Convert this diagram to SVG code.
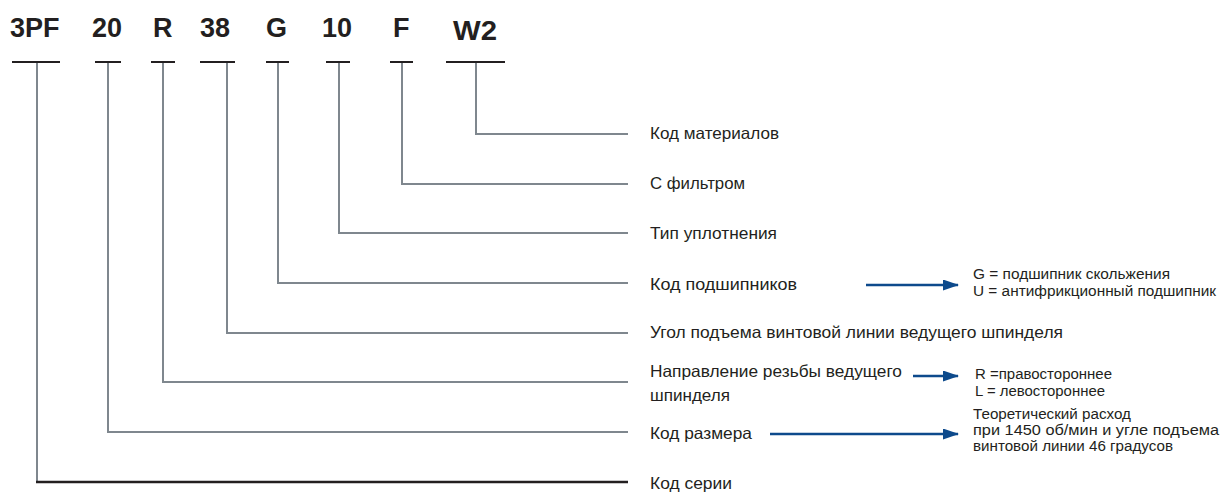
<svg xmlns="http://www.w3.org/2000/svg" width="1226" height="495" viewBox="0 0 1226 495">
<style>
.code{font-family:"Liberation Sans",Arial,sans-serif;font-weight:bold;font-size:27px;fill:#231f20}
.lbl{font-family:"Liberation Sans",Arial,sans-serif;font-size:16.5px;fill:#231f20}
.sm{font-family:"Liberation Sans",Arial,sans-serif;font-size:14px;fill:#231f20}
.bar{stroke:#231f20;stroke-width:2;fill:none}
.ln{stroke:#7f878e;stroke-width:2;fill:none}
.blk{stroke:#231f20;stroke-width:2.5;fill:none}
.arr{stroke:#0d4a8c;stroke-width:2.5;fill:none;marker-end:url(#ah)}
</style>
<defs>
<marker id="ah" viewBox="0 0 16 11" refX="15" refY="5.5" markerWidth="6.4" markerHeight="4.4" markerUnits="strokeWidth" orient="auto">
<path d="M0,0 L16,5.5 L0,11 z" fill="#0d4a8c"/>
</marker>
</defs>
<rect width="1226" height="495" fill="#fff"/>
<g id="codes">
<text class="code" x="10" y="37">3PF</text>
<text class="code" x="92" y="37">20</text>
<text class="code" x="153" y="37">R</text>
<text class="code" x="200" y="37">38</text>
<text class="code" x="266" y="37">G</text>
<text class="code" x="322" y="37">10</text>
<text class="code" x="393" y="37">F</text>
<text class="code" x="453" y="40" textLength="44" lengthAdjust="spacingAndGlyphs">W2</text>
</g>
<g id="connectors">
<line class="bar" x1="12" y1="62" x2="60" y2="62"/>
<line class="bar" x1="95" y1="62" x2="121" y2="62"/>
<line class="bar" x1="151" y1="62" x2="175" y2="62"/>
<line class="bar" x1="200" y1="62" x2="235" y2="62"/>
<line class="bar" x1="266" y1="62" x2="289" y2="62"/>
<line class="bar" x1="326" y1="62" x2="350" y2="62"/>
<line class="bar" x1="390" y1="62" x2="413" y2="62"/>
<line class="bar" x1="446" y1="62" x2="505" y2="62"/>
<polyline class="ln" points="476,63 476,134 628,134"/>
<polyline class="ln" points="402,63 402,184 628,184"/>
<polyline class="ln" points="339,63 339,233 628,233"/>
<polyline class="ln" points="278,63 278,283 628,283"/>
<polyline class="ln" points="227,63 227,333 628,333"/>
<polyline class="ln" points="163,63 163,382 628,382"/>
<polyline class="ln" points="108,63 108,432 628,432"/>
<polyline class="ln" points="37,63 37,481"/>
<line class="blk" x1="36" y1="482" x2="628" y2="482"/>
<line class="arr" x1="866" y1="285" x2="958" y2="285"/>
<line class="arr" x1="913" y1="376" x2="958" y2="376"/>
<line class="arr" x1="770" y1="434" x2="958" y2="434"/>
</g>
<g id="labels">
<text class="lbl" x="650" y="139" textLength="129" lengthAdjust="spacingAndGlyphs">Код материалов</text>
<text class="lbl" x="650" y="189" textLength="95" lengthAdjust="spacingAndGlyphs">С фильтром</text>
<text class="lbl" x="650" y="239" textLength="127" lengthAdjust="spacingAndGlyphs">Тип уплотнения</text>
<text class="lbl" x="650" y="290" textLength="147" lengthAdjust="spacingAndGlyphs">Код подшипников</text>
<text class="lbl" x="650" y="338" textLength="413" lengthAdjust="spacingAndGlyphs">Угол подъема винтовой линии ведущего шпинделя</text>
<text class="lbl" x="650" y="377" textLength="252" lengthAdjust="spacingAndGlyphs">Направление резьбы ведущего</text>
<text class="lbl" x="650" y="401" textLength="80" lengthAdjust="spacingAndGlyphs">шпинделя</text>
<text class="lbl" x="650" y="439" textLength="102" lengthAdjust="spacingAndGlyphs">Код размера</text>
<text class="lbl" x="650" y="489" textLength="82" lengthAdjust="spacingAndGlyphs">Код серии</text>
</g>
<g id="details">
<text class="sm" x="973" y="279" textLength="197" lengthAdjust="spacingAndGlyphs">G = подшипник скольжения</text>
<text class="sm" x="973" y="296" textLength="243" lengthAdjust="spacingAndGlyphs">U = антифрикционный подшипник</text>
<text class="sm" x="975" y="379" textLength="137" lengthAdjust="spacingAndGlyphs">R =правостороннее</text>
<text class="sm" x="975" y="396" textLength="130" lengthAdjust="spacingAndGlyphs">L = левостороннее</text>
<text class="sm" x="973" y="419" textLength="158" lengthAdjust="spacingAndGlyphs">Теоретический расход</text>
<text class="sm" x="973" y="435" textLength="246" lengthAdjust="spacingAndGlyphs">при 1450 об/мин и угле подъема</text>
<text class="sm" x="973" y="451" textLength="200" lengthAdjust="spacingAndGlyphs">винтовой линии 46 градусов</text>
</g>
</svg>
